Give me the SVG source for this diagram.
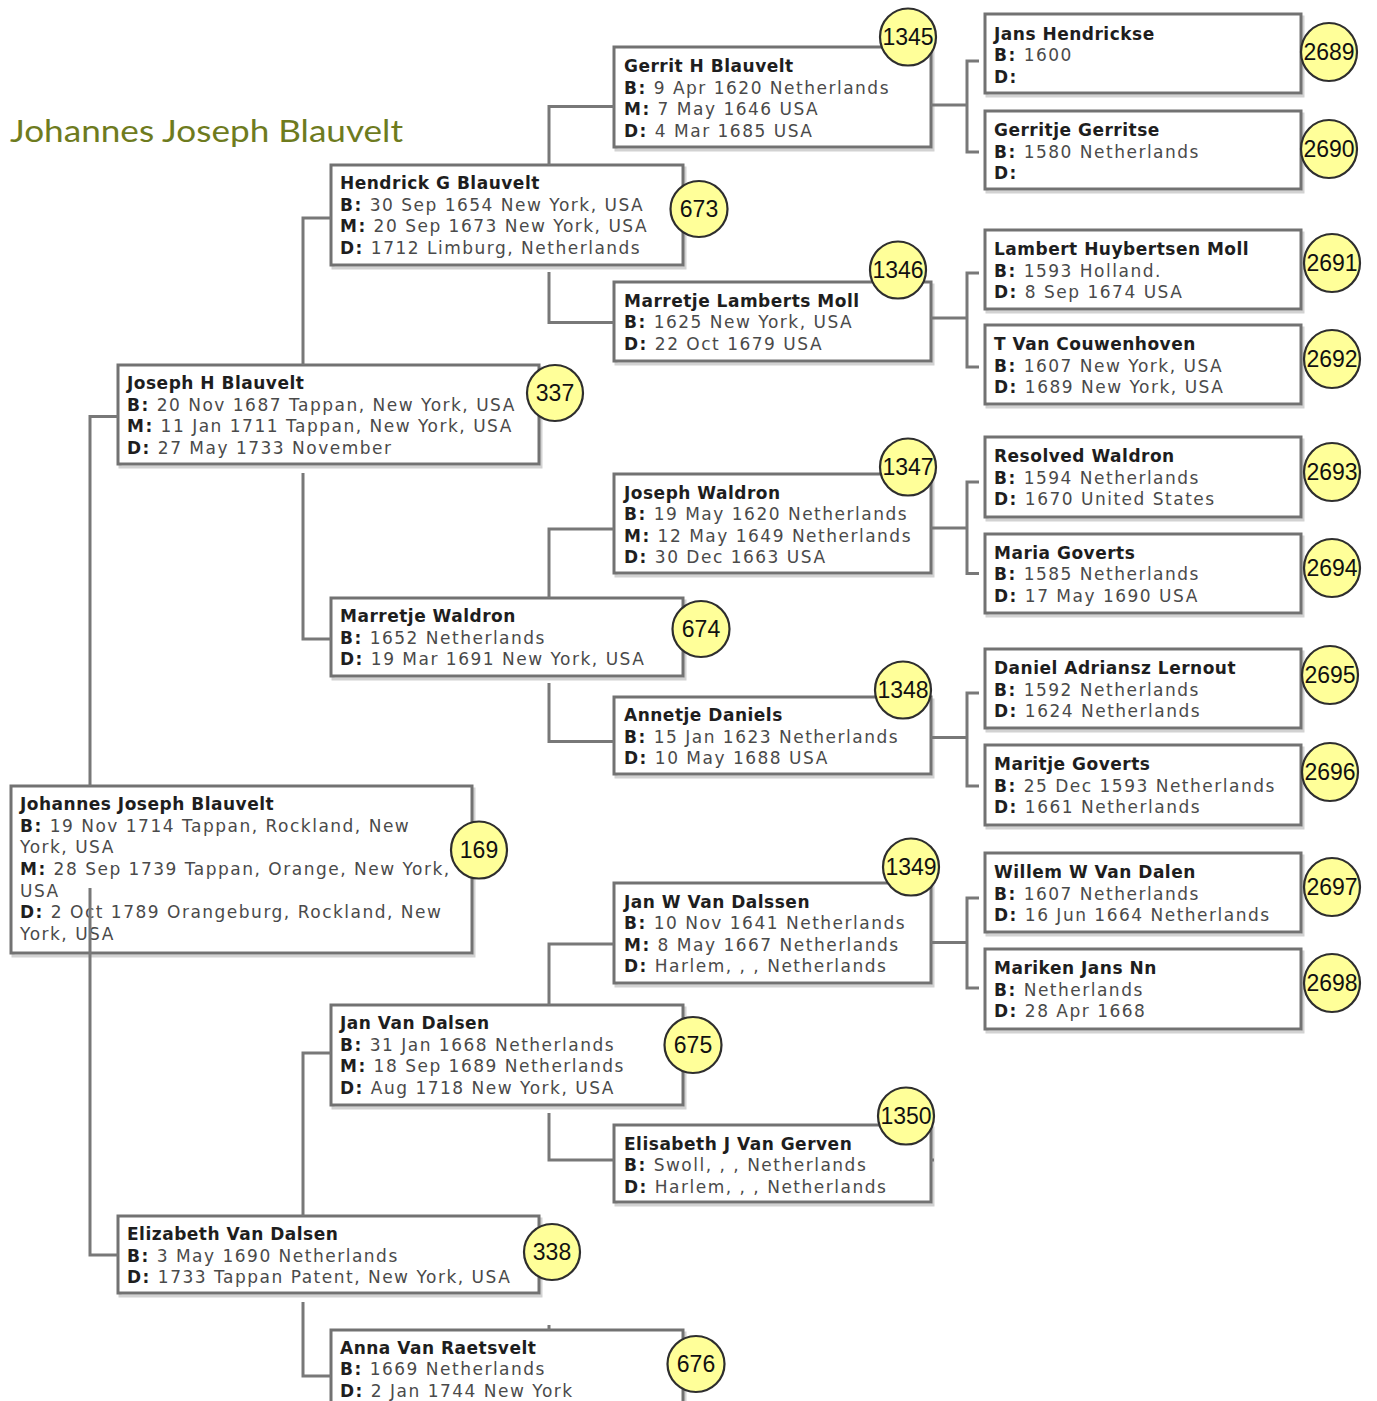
<svg xmlns="http://www.w3.org/2000/svg" width="1377" height="1401" viewBox="0 0 1377 1401">
<style>
  .bg { fill: #ffffff; }
  .box { fill: #ffffff; stroke: #727272; stroke-width: 3; }
  .shadow { fill: none; stroke: #d2d2d2; stroke-width: 3; }
  .badge { fill: #ffff99; stroke: #2e2e2e; stroke-width: 2.2; }
  .num { font-family: "Liberation Sans", Arial, sans-serif; font-size: 23px; fill: #111111; text-anchor: middle; }
  .nm { font-family: "DejaVu Sans", Verdana, sans-serif; font-size: 17px; font-weight: bold; fill: #1e1e1e; letter-spacing: 0.5px; }
  .dt { font-family: "DejaVu Sans", Verdana, sans-serif; font-size: 17px; fill: #4a4a4a; letter-spacing: 1.5px; }
  .lb { font-weight: bold; fill: #1e1e1e; }
  .title { font-family: Lato, "Open Sans", "Liberation Sans", sans-serif; font-size: 31px; fill: #6e7b1e; }
  .conn { fill: none; stroke: #787878; stroke-width: 3; }
</style>
<rect class="bg" x="0" y="0" width="1377" height="1401"/>
<text class="title" x="10" y="142" textLength="393" lengthAdjust="spacingAndGlyphs">Johannes Joseph Blauvelt</text>

<!-- Generation 1 -->
<g id="n169">
  <rect class="shadow" x="13" y="789" width="461" height="167"/>
  <rect class="box" x="11" y="786" width="461" height="167"/>
  <ellipse class="badge" cx="479" cy="850" rx="28" ry="28.5"/>
  <text class="num" x="479" y="858">169</text>
  <text class="nm" x="20" y="809.5">Johannes Joseph Blauvelt</text>
  <text class="dt" x="20" y="831.5"><tspan class="lb">B:</tspan> 19 Nov 1714 Tappan, Rockland, New</text>
  <text class="dt" x="20" y="853">York, USA</text>
  <text class="dt" x="20" y="875"><tspan class="lb">M:</tspan> 28 Sep 1739 Tappan, Orange, New York,</text>
  <text class="dt" x="20" y="896.5">USA</text>
  <text class="dt" x="20" y="918"><tspan class="lb">D:</tspan> 2 Oct 1789 Orangeburg, Rockland, New</text>
  <text class="dt" x="20" y="940">York, USA</text>
</g>

<!-- Generation 2 -->
<g id="n337">
  <rect class="shadow" x="120" y="368" width="421" height="99"/>
  <rect class="box" x="118" y="365" width="421" height="99"/>
  <ellipse class="badge" cx="555" cy="393" rx="28" ry="28"/>
  <text class="num" x="555" y="401">337</text>
  <text class="nm" x="127" y="389">Joseph H Blauvelt</text>
  <text class="dt" x="127" y="410.6"><tspan class="lb">B:</tspan> 20 Nov 1687 Tappan, New York, USA</text>
  <text class="dt" x="127" y="432.2"><tspan class="lb">M:</tspan> 11 Jan 1711 Tappan, New York, USA</text>
  <text class="dt" x="127" y="453.8"><tspan class="lb">D:</tspan> 27 May 1733 November</text>
</g>
<g id="n338">
  <rect class="shadow" x="120" y="1219" width="421" height="77"/>
  <rect class="box" x="118" y="1216" width="421" height="77"/>
  <ellipse class="badge" cx="552" cy="1252" rx="28" ry="28"/>
  <text class="num" x="552" y="1260">338</text>
  <text class="nm" x="127" y="1240">Elizabeth Van Dalsen</text>
  <text class="dt" x="127" y="1261.6"><tspan class="lb">B:</tspan> 3 May 1690 Netherlands</text>
  <text class="dt" x="127" y="1283.2"><tspan class="lb">D:</tspan> 1733 Tappan Patent, New York, USA</text>
</g>

<!-- Generation 3 -->
<g id="n673">
  <rect class="shadow" x="333" y="168" width="352" height="100"/>
  <rect class="box" x="331" y="165" width="352" height="100"/>
  <ellipse class="badge" cx="699" cy="209" rx="28.5" ry="28"/>
  <text class="num" x="699" y="217">673</text>
  <text class="nm" x="340" y="189">Hendrick G Blauvelt</text>
  <text class="dt" x="340" y="210.6"><tspan class="lb">B:</tspan> 30 Sep 1654 New York, USA</text>
  <text class="dt" x="340" y="232.2"><tspan class="lb">M:</tspan> 20 Sep 1673 New York, USA</text>
  <text class="dt" x="340" y="253.8"><tspan class="lb">D:</tspan> 1712 Limburg, Netherlands</text>
</g>
<g id="n674">
  <rect class="shadow" x="333" y="601" width="352" height="78"/>
  <rect class="box" x="331" y="598" width="352" height="78"/>
  <ellipse class="badge" cx="701" cy="629" rx="28.5" ry="28"/>
  <text class="num" x="701" y="637">674</text>
  <text class="nm" x="340" y="622">Marretje Waldron</text>
  <text class="dt" x="340" y="643.6"><tspan class="lb">B:</tspan> 1652 Netherlands</text>
  <text class="dt" x="340" y="665.2"><tspan class="lb">D:</tspan> 19 Mar 1691 New York, USA</text>
</g>
<g id="n675">
  <rect class="shadow" x="333" y="1008" width="352" height="100"/>
  <rect class="box" x="331" y="1005" width="352" height="100"/>
  <ellipse class="badge" cx="693" cy="1045" rx="28.5" ry="28"/>
  <text class="num" x="693" y="1053">675</text>
  <text class="nm" x="340" y="1029">Jan Van Dalsen</text>
  <text class="dt" x="340" y="1050.6"><tspan class="lb">B:</tspan> 31 Jan 1668 Netherlands</text>
  <text class="dt" x="340" y="1072.2"><tspan class="lb">M:</tspan> 18 Sep 1689 Netherlands</text>
  <text class="dt" x="340" y="1093.8"><tspan class="lb">D:</tspan> Aug 1718 New York, USA</text>
</g>
<g id="n676">
  <rect class="shadow" x="333" y="1333" width="352" height="100"/>
  <rect class="box" x="331" y="1330" width="352" height="100"/>
  <ellipse class="badge" cx="696" cy="1364" rx="28.5" ry="28"/>
  <text class="num" x="696" y="1372">676</text>
  <text class="nm" x="340" y="1353.5">Anna Van Raetsvelt</text>
  <text class="dt" x="340" y="1375.1"><tspan class="lb">B:</tspan> 1669 Netherlands</text>
  <text class="dt" x="340" y="1396.7"><tspan class="lb">D:</tspan> 2 Jan 1744 New York</text>
</g>

<!-- Generation 4 -->
<g id="n1345">
  <rect class="shadow" x="616" y="50" width="317" height="100"/>
  <rect class="box" x="614" y="47" width="317" height="100"/>
  <ellipse class="badge" cx="908" cy="37" rx="28" ry="28.5"/>
  <text class="num" x="908" y="45">1345</text>
  <text class="nm" x="624" y="72">Gerrit H Blauvelt</text>
  <text class="dt" x="624" y="93.6"><tspan class="lb">B:</tspan> 9 Apr 1620 Netherlands</text>
  <text class="dt" x="624" y="115.2"><tspan class="lb">M:</tspan> 7 May 1646 USA</text>
  <text class="dt" x="624" y="136.8"><tspan class="lb">D:</tspan> 4 Mar 1685 USA</text>
</g>
<g id="n1346">
  <rect class="shadow" x="616" y="285" width="317" height="79"/>
  <rect class="box" x="614" y="282" width="317" height="79"/>
  <ellipse class="badge" cx="898" cy="270" rx="28" ry="28.5"/>
  <text class="num" x="898" y="278">1346</text>
  <text class="nm" x="624" y="306.5">Marretje Lamberts Moll</text>
  <text class="dt" x="624" y="328.1"><tspan class="lb">B:</tspan> 1625 New York, USA</text>
  <text class="dt" x="624" y="349.7"><tspan class="lb">D:</tspan> 22 Oct 1679 USA</text>
</g>
<g id="n1347">
  <rect class="shadow" x="616" y="477" width="317" height="99"/>
  <rect class="box" x="614" y="474" width="317" height="99"/>
  <ellipse class="badge" cx="908" cy="467" rx="28" ry="28.5"/>
  <text class="num" x="908" y="475">1347</text>
  <text class="nm" x="624" y="498.5">Joseph Waldron</text>
  <text class="dt" x="624" y="520.1"><tspan class="lb">B:</tspan> 19 May 1620 Netherlands</text>
  <text class="dt" x="624" y="541.7"><tspan class="lb">M:</tspan> 12 May 1649 Netherlands</text>
  <text class="dt" x="624" y="563.3"><tspan class="lb">D:</tspan> 30 Dec 1663 USA</text>
</g>
<g id="n1348">
  <rect class="shadow" x="616" y="700" width="317" height="77"/>
  <rect class="box" x="614" y="697" width="317" height="77"/>
  <ellipse class="badge" cx="903" cy="690" rx="28" ry="28.5"/>
  <text class="num" x="903" y="698">1348</text>
  <text class="nm" x="624" y="721">Annetje Daniels</text>
  <text class="dt" x="624" y="742.6"><tspan class="lb">B:</tspan> 15 Jan 1623 Netherlands</text>
  <text class="dt" x="624" y="764.2"><tspan class="lb">D:</tspan> 10 May 1688 USA</text>
</g>
<g id="n1349">
  <rect class="shadow" x="616" y="886" width="317" height="100"/>
  <rect class="box" x="614" y="883" width="317" height="100"/>
  <ellipse class="badge" cx="911" cy="867" rx="28" ry="28.5"/>
  <text class="num" x="911" y="875">1349</text>
  <text class="nm" x="624" y="907.5">Jan W Van Dalssen</text>
  <text class="dt" x="624" y="929.1"><tspan class="lb">B:</tspan> 10 Nov 1641 Netherlands</text>
  <text class="dt" x="624" y="950.7"><tspan class="lb">M:</tspan> 8 May 1667 Netherlands</text>
  <text class="dt" x="624" y="972.3"><tspan class="lb">D:</tspan> Harlem, , , Netherlands</text>
</g>
<g id="n1350">
  <rect class="shadow" x="616" y="1128" width="317" height="77"/>
  <rect class="box" x="614" y="1125" width="317" height="77"/>
  <ellipse class="badge" cx="906" cy="1116" rx="28" ry="28.5"/>
  <text class="num" x="906" y="1124">1350</text>
  <text class="nm" x="624" y="1149.5">Elisabeth J Van Gerven</text>
  <text class="dt" x="624" y="1171.1"><tspan class="lb">B:</tspan> Swoll, , , Netherlands</text>
  <text class="dt" x="624" y="1192.7"><tspan class="lb">D:</tspan> Harlem, , , Netherlands</text>
</g>

<!-- Generation 5 -->
<g id="n2689">
  <rect class="shadow" x="987" y="17" width="316" height="79"/>
  <rect class="box" x="985" y="14" width="316" height="79"/>
  <ellipse class="badge" cx="1329" cy="52" rx="28" ry="29"/>
  <text class="num" x="1329" y="60">2689</text>
  <text class="nm" x="994" y="39.5">Jans Hendrickse</text>
  <text class="dt" x="994" y="61.1"><tspan class="lb">B:</tspan> 1600</text>
  <text class="dt" x="994" y="82.7"><tspan class="lb">D:</tspan></text>
</g>
<g id="n2690">
  <rect class="shadow" x="987" y="114" width="316" height="78"/>
  <rect class="box" x="985" y="111" width="316" height="78"/>
  <ellipse class="badge" cx="1329" cy="149" rx="28" ry="29"/>
  <text class="num" x="1329" y="157">2690</text>
  <text class="nm" x="994" y="136">Gerritje Gerritse</text>
  <text class="dt" x="994" y="157.6"><tspan class="lb">B:</tspan> 1580 Netherlands</text>
  <text class="dt" x="994" y="179.2"><tspan class="lb">D:</tspan></text>
</g>
<g id="n2691">
  <rect class="shadow" x="987" y="233" width="316" height="79"/>
  <rect class="box" x="985" y="230" width="316" height="79"/>
  <ellipse class="badge" cx="1332" cy="263" rx="28" ry="29"/>
  <text class="num" x="1332" y="271">2691</text>
  <text class="nm" x="994" y="255">Lambert Huybertsen Moll</text>
  <text class="dt" x="994" y="276.6"><tspan class="lb">B:</tspan> 1593 Holland.</text>
  <text class="dt" x="994" y="298.2"><tspan class="lb">D:</tspan> 8 Sep 1674 USA</text>
</g>
<g id="n2692">
  <rect class="shadow" x="987" y="328" width="316" height="79"/>
  <rect class="box" x="985" y="325" width="316" height="79"/>
  <ellipse class="badge" cx="1332" cy="359" rx="28" ry="29"/>
  <text class="num" x="1332" y="367">2692</text>
  <text class="nm" x="994" y="350">T Van Couwenhoven</text>
  <text class="dt" x="994" y="371.6"><tspan class="lb">B:</tspan> 1607 New York, USA</text>
  <text class="dt" x="994" y="393.2"><tspan class="lb">D:</tspan> 1689 New York, USA</text>
</g>
<g id="n2693">
  <rect class="shadow" x="987" y="440" width="316" height="80"/>
  <rect class="box" x="985" y="437" width="316" height="80"/>
  <ellipse class="badge" cx="1332" cy="472" rx="28" ry="29"/>
  <text class="num" x="1332" y="480">2693</text>
  <text class="nm" x="994" y="462">Resolved Waldron</text>
  <text class="dt" x="994" y="483.6"><tspan class="lb">B:</tspan> 1594 Netherlands</text>
  <text class="dt" x="994" y="505.2"><tspan class="lb">D:</tspan> 1670 United States</text>
</g>
<g id="n2694">
  <rect class="shadow" x="987" y="537" width="316" height="79"/>
  <rect class="box" x="985" y="534" width="316" height="79"/>
  <ellipse class="badge" cx="1332" cy="568" rx="28" ry="29"/>
  <text class="num" x="1332" y="576">2694</text>
  <text class="nm" x="994" y="558.5">Maria Goverts</text>
  <text class="dt" x="994" y="580.1"><tspan class="lb">B:</tspan> 1585 Netherlands</text>
  <text class="dt" x="994" y="601.7"><tspan class="lb">D:</tspan> 17 May 1690 USA</text>
</g>
<g id="n2695">
  <rect class="shadow" x="987" y="652" width="316" height="79"/>
  <rect class="box" x="985" y="649" width="316" height="79"/>
  <ellipse class="badge" cx="1330" cy="675" rx="28" ry="29"/>
  <text class="num" x="1330" y="683">2695</text>
  <text class="nm" x="994" y="674">Daniel Adriansz Lernout</text>
  <text class="dt" x="994" y="695.6"><tspan class="lb">B:</tspan> 1592 Netherlands</text>
  <text class="dt" x="994" y="717.2"><tspan class="lb">D:</tspan> 1624 Netherlands</text>
</g>
<g id="n2696">
  <rect class="shadow" x="987" y="748" width="316" height="80"/>
  <rect class="box" x="985" y="745" width="316" height="80"/>
  <ellipse class="badge" cx="1330" cy="772" rx="28" ry="29"/>
  <text class="num" x="1330" y="780">2696</text>
  <text class="nm" x="994" y="770">Maritje Goverts</text>
  <text class="dt" x="994" y="791.6"><tspan class="lb">B:</tspan> 25 Dec 1593 Netherlands</text>
  <text class="dt" x="994" y="813.2"><tspan class="lb">D:</tspan> 1661 Netherlands</text>
</g>
<g id="n2697">
  <rect class="shadow" x="987" y="856" width="316" height="79"/>
  <rect class="box" x="985" y="853" width="316" height="79"/>
  <ellipse class="badge" cx="1332" cy="887" rx="28" ry="29"/>
  <text class="num" x="1332" y="895">2697</text>
  <text class="nm" x="994" y="878">Willem W Van Dalen</text>
  <text class="dt" x="994" y="899.6"><tspan class="lb">B:</tspan> 1607 Netherlands</text>
  <text class="dt" x="994" y="921.2"><tspan class="lb">D:</tspan> 16 Jun 1664 Netherlands</text>
</g>
<g id="n2698">
  <rect class="shadow" x="987" y="952" width="316" height="80"/>
  <rect class="box" x="985" y="949" width="316" height="80"/>
  <ellipse class="badge" cx="1332" cy="983" rx="28" ry="29"/>
  <text class="num" x="1332" y="991">2698</text>
  <text class="nm" x="994" y="974">Mariken Jans Nn</text>
  <text class="dt" x="994" y="995.6"><tspan class="lb">B:</tspan> Netherlands</text>
  <text class="dt" x="994" y="1017.2"><tspan class="lb">D:</tspan> 28 Apr 1668</text>
</g>

<!-- Connectors -->
<g id="connectors" class="conn">
  <path d="M118,416.5 H90 V786"/>
  <path d="M90,888 V1255 H118"/>
  <path d="M331,218 H303 V365"/>
  <path d="M303,473 V639 H331"/>
  <path d="M331,1053 H303 V1216"/>
  <path d="M303,1302 V1376 H331"/>
  <path d="M614,106.5 H549 V165"/>
  <path d="M549,272 V322.5 H614"/>
  <path d="M614,529 H549 V598"/>
  <path d="M549,683 V741.5 H614"/>
  <path d="M614,944 H549 V1005"/>
  <path d="M549,1113 V1160 H614"/>
  <path d="M549,1325 V1330"/>
  <path d="M931,105 H967 M979,61 H967 V152 H979"/>
  <path d="M931,318 H967 M979,273 H967 V367 H979"/>
  <path d="M931,528 H967 M979,482 H967 V573.5 H979"/>
  <path d="M931,737.5 H967 M979,693 H967 V786 H979"/>
  <path d="M931,942.5 H967 M979,898 H967 V988 H979"/>
  <path d="M931,1160 H934"/>
</g>
</svg>
